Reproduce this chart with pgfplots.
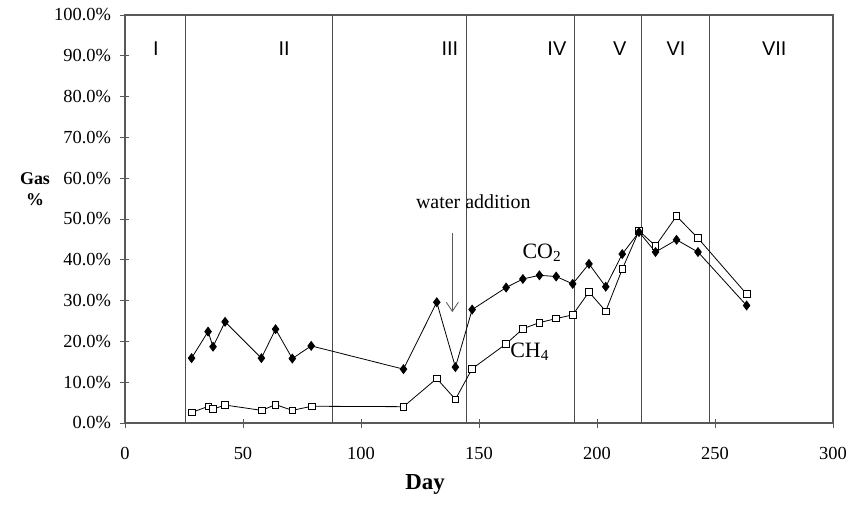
\documentclass[border=0pt]{standalone}
\usepackage{fontspec}
\setmainfont{Liberation Serif}
\newfontfamily\arialfont{Liberation Sans}
\usepackage{pgfplots}
\pgfplotsset{compat=1.18}
\usetikzlibrary{arrows.meta}
\begin{document}
\begin{tikzpicture}
\useasboundingbox (-125bp,-84bp) rectangle (727bp,423bp);
\begin{axis}[
 at={(0,0)}, anchor=south west, scale only axis,
 width=708bp, height=408bp,
 xmin=0, xmax=300, ymin=0, ymax=100,
 xtick={0,50,...,300}, ytick={0,10,...,100},
 tick align=center, tick pos=left, major tick length=9bp,
 axis line style={draw=black!65, line width=1.2bp},
 every tick/.style={black!65, line width=0.8bp},
 /pgf/number format/assume math mode=true,
 yticklabel={\pgfmathprintnumber[fixed,fixed zerofill,precision=1]{\tick}\%},
 ticklabel style={font=\fontsize{18.5}{20}\selectfont},
 xticklabel style={yshift=-16bp},
 yticklabel style={xshift=-6bp},
 clip=false,
]
\foreach \xx in {25.5,88,144.6,190.4,219,247.5}{
  \edef\tmp{\noexpand\draw[black!70, line width=0.8bp] (axis cs:\xx,0) -- (axis cs:\xx,100);}
  \tmp
}
\addplot[black, line width=0.8bp, mark=square*, mark size=3.3bp, mark options={fill=white, solid}] coordinates {
(28.3,2.6) (35.4,4.1) (37.3,3.4) (42.4,4.4) (57.9,3.1) (63.8,4.5) (70.9,3.1) (79.1,4.1)
(118,4.0) (132.1,10.9) (140,5.8) (147.1,13.3) (161.5,19.4) (168.6,23.1) (175.6,24.6)
(182.7,25.6) (189.7,26.5) (196.6,32.1) (203.7,27.4) (210.7,37.7) (217.8,47.1) (224.8,43.4)
(233.7,50.7) (242.8,45.3) (263.4,31.6)
};
\addplot[black, line width=0.8bp, mark=diamond*, mark size=4.4bp, mark options={fill=black}] coordinates {
(28.2,15.9) (35.2,22.4) (37.3,18.7) (42.4,24.8) (57.8,15.9) (63.8,23.0) (70.9,15.8) (78.9,18.9)
(118,13.2) (132.1,29.6) (140,13.7) (147.1,27.8) (161.5,33.2) (168.6,35.3) (175.6,36.2)
(182.7,35.9) (189.7,34.1) (196.6,39.0) (203.7,33.4) (210.7,41.4) (217.8,46.8) (224.8,41.9)
(233.7,44.9) (242.8,41.9) (263.4,28.8)
};
\foreach \xx/\lab in {13.1/I,67.4/II,137.7/III,183/IV,209.7/V,233.5/VI,275.1/VII}{
  \edef\tmp{\noexpand\node[font=\noexpand\arialfont\noexpand\fontsize{20}{22}\noexpand\selectfont] at (axis cs:\xx,91.7) {\lab};}
  \tmp
}
\node[font=\fontsize{20}{22}\selectfont] at (axis cs:147.6,54.2) {water addition};
\draw[black!65, line width=0.8bp, -{Straight Barb[length=9bp,width=12bp]}] (axis cs:138.7,46.6) -- (axis cs:138.7,27.2);
\node[font=\fontsize{22}{24}\selectfont, anchor=west, inner sep=0pt] at (axis cs:168.4,41.7) {CO\textsubscript{2}};
\node[font=\fontsize{22}{24}\selectfont, anchor=west, inner sep=0pt] at (axis cs:163.2,17.5) {CH\textsubscript{4}};
\end{axis}
\node[font=\bfseries\fontsize{18}{21}\selectfont, align=center] at (-90bp,234bp) {Gas\\\%};
\node[font=\bfseries\fontsize{23}{25}\selectfont] at (300bp,-61bp) {Day};
\end{tikzpicture}
\end{document}
